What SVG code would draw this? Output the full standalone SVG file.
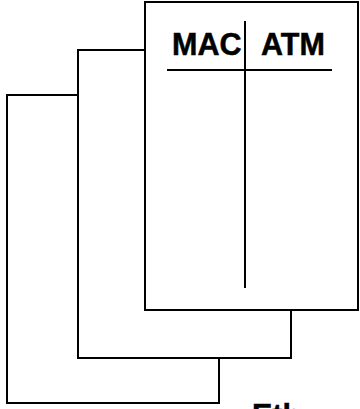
<svg xmlns="http://www.w3.org/2000/svg" width="360" height="409" viewBox="0 0 360 409">
<style>
.ln{fill:none;stroke:#000;stroke-width:2;stroke-linecap:square}
.t{font-family:"Liberation Sans",Arial,sans-serif;font-weight:bold;font-size:30.5px;fill:#000;stroke:#000;stroke-width:0.5}
</style>
<rect width="360" height="409" fill="#fff"/>
<g id="page-back">
<polyline class="ln" points="78,95 7,95 7,403 219,403 219,358"/>
</g>
<g id="page-middle">
<polyline class="ln" points="145,50 78,50 78,358 291,358 291,310"/>
</g>
<g id="page-front">
<rect class="ln" x="145" y="2" width="213" height="308"/>
<line class="ln" x1="168" y1="70" x2="331" y2="70"/>
<line class="ln" x1="245" y1="22" x2="245" y2="287"/>
<text class="t" x="172" y="54.5">MAC</text>
<text class="t" x="261" y="54.5">ATM</text>
</g>
<g id="label">
<text class="t" x="252" y="425.5">Eth</text>
</g>
</svg>
